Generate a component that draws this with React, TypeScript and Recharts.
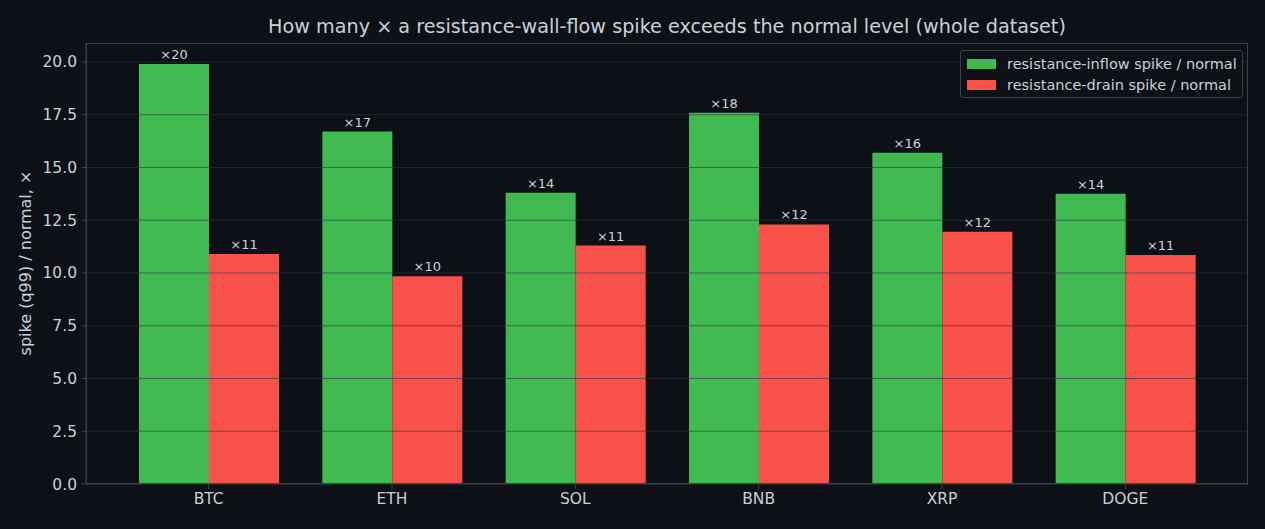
import {
  BarChart,
  Bar,
  XAxis,
  YAxis,
  LabelList,
  ReferenceLine,
} from "recharts";

const coins = ["BTC", "ETH", "SOL", "BNB", "XRP", "DOGE"];
const inflowRatio = [19.9, 16.7, 13.8, 17.6, 15.7, 13.75];
const drainRatio = [10.9, 9.85, 11.3, 12.3, 11.95, 10.85];
const yTicks = [0, 2.5, 5, 7.5, 10, 12.5, 15, 17.5, 20];
const seriesNames = ["resistance-inflow spike / normal", "resistance-drain spike / normal"];

const GREEN = "#3fb950";
const RED = "#f85149";
const TEXT = "#c9d1d9";
const FRAME = "#3a4048";
const BG = "#0d1017";
const FONT = "'DejaVu Sans', sans-serif";

const data = coins.map((c, i) => ({ coin: c, inflow: inflowRatio[i], drain: drainRatio[i] }));

function LegendBox() {
  const colors = [GREEN, RED];
  return (
    <div
      style={{
        position: "absolute",
        top: 50,
        left: 960,
        border: `1px solid ${FRAME}`,
        borderRadius: 3,
        background: BG,
        padding: "2px 5px 2px 6px",
        fontSize: 14.5,
        color: TEXT,
      }}
    >
      {seriesNames.map((n, i) => (
        <div key={n} style={{ display: "flex", alignItems: "center", height: 21 }}>
          <span style={{ width: 29, height: 10, background: colors[i], marginRight: 11 }} />
          {n}
        </div>
      ))}
    </div>
  );
}

export default function App() {
  const fmt = (v: any) => `×${Math.round(Number(v))}`;
  return (
    <div style={{ position: "relative", width: 1265, height: 529, background: BG, fontFamily: FONT }}>
      <style>{`body{margin:0;background:${BG}}`}</style>
      <div
        style={{
          position: "absolute",
          top: 15,
          left: 86,
          width: 1162,
          textAlign: "center",
          color: TEXT,
          fontSize: 19.2,
        }}
      >
        How many × a resistance-wall-flow spike exceeds the normal level (whole dataset)
      </div>
      <div
        style={{
          position: "absolute",
          left: 25,
          top: 263,
          transform: "translate(-50%, -50%) rotate(-90deg)",
          whiteSpace: "nowrap",
          color: TEXT,
          fontSize: 16,
        }}
      >
        spike (q99) / normal, ×
      </div>
      <BarChart
        width={1265}
        height={529}
        data={data}
        margin={{ top: 43, right: 17, bottom: 0, left: 0 }}
        barGap={0}
        barCategoryGap="12%"
        style={{ position: "absolute", top: 0, left: 0 }}
      >
        <XAxis
          dataKey="coin"
          height={45}
          padding={{ left: 31, right: 31 }}
          tick={{ fill: TEXT, fontSize: 15.5, fontFamily: FONT }}
          tickSize={5}
          tickMargin={4}
          stroke={FRAME}
          axisLine={{ stroke: FRAME }}
        />
        <YAxis
          width={86}
          domain={[0, 20.9]}
          ticks={yTicks}
          tickFormatter={(v: number) => v.toFixed(1)}
          tick={{ fill: TEXT, fontSize: 15.5, fontFamily: FONT }}
          tickSize={5}
          tickMargin={4}
          stroke={FRAME}
          axisLine={{ stroke: FRAME }}
        />
        <Bar dataKey="inflow" name={seriesNames[0]} fill={GREEN} isAnimationActive={false}>
          <LabelList dataKey="inflow" position="top" formatter={fmt} fill={TEXT} fontSize={13} fontFamily={FONT} />
        </Bar>
        <Bar dataKey="drain" name={seriesNames[1]} fill={RED} isAnimationActive={false}>
          <LabelList dataKey="drain" position="top" formatter={fmt} fill={TEXT} fontSize={13} fontFamily={FONT} />
        </Bar>
        {yTicks.slice(1).map((t) => (
          <ReferenceLine key={t} y={t} stroke="#30363d" strokeOpacity={0.6} strokeWidth={1} />
        ))}
      </BarChart>
      <div
        style={{
          position: "absolute",
          left: 86,
          top: 43,
          width: 1162,
          height: 441,
          boxSizing: "border-box",
          border: `1px solid ${FRAME}`,
          pointerEvents: "none",
        }}
      />
      <LegendBox />
    </div>
  );
}
